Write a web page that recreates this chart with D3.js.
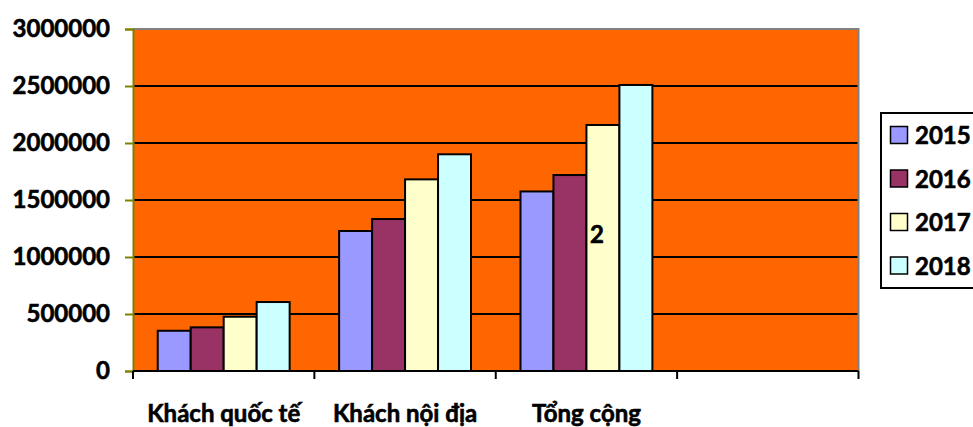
<!DOCTYPE html>
<html>
<head>
<meta charset="utf-8">
<script src="https://cdn.jsdelivr.net/npm/d3@7"></script>
<style>
  html, body { margin: 0; padding: 0; background: #ffffff; overflow: hidden; }
  svg { display: block; font-family: Lato, "Noto Sans", sans-serif; font-weight: bold; }
  svg text { stroke: #000; stroke-width: 0.6px; }
</style>
</head>
<body>
<svg id="chart" width="973" height="427"></svg>
<script>
// Visitor counts per group and year
const categories = ["Khách quốc tế", "Khách nội địa", "Tổng cộng", ""];
const years = ["2015", "2016", "2017", "2018"];
const v2015 = [353000, 1228000, 1575000];
const v2016 = [383000, 1333000, 1719000];
const v2017 = [476000, 1681000, 2158000];
const v2018 = [605000, 1901000, 2509000];
const yTicks = [0, 500000, 1000000, 1500000, 2000000, 2500000, 3000000];
const colors = ["#9999FF", "#993366", "#FFFFCC", "#CCFFFF"];
// stray value label on the 2017 "Tổng cộng" bar
const strayLabel = { text: "2", category: "Tổng cộng", year: "2017", value: 1200000 };

const seriesValues = [v2015, v2016, v2017, v2018];

const svg = d3.select("#chart");
const plot = { left: 133, right: 858.5, top: 29, bottom: 371 };

const x0 = d3.scaleBand().domain(categories).range([plot.left, plot.right]).padding(0);
const x1 = d3.scaleBand().domain(years).range([0, x0.bandwidth()])
  .paddingInner(0).paddingOuter(0.75);
const y = d3.scaleLinear().domain([0, 3000000]).range([plot.bottom, plot.top]);

// plot background
svg.append("rect")
  .attr("x", plot.left).attr("y", plot.top)
  .attr("width", plot.right - plot.left).attr("height", plot.bottom - plot.top)
  .attr("fill", "#FF6600");

// horizontal gridlines
svg.append("g").selectAll("line")
  .data(yTicks.filter(t => t > 0 && t < 3000000))
  .join("line")
  .attr("x1", plot.left).attr("x2", plot.right)
  .attr("y1", d => y(d)).attr("y2", d => y(d))
  .attr("stroke", "#000").attr("stroke-width", 2);

// top and right border of the plot area
svg.append("path")
  .attr("d", `M${plot.left},${plot.top}H${plot.right}V${plot.bottom}`)
  .attr("fill", "none").attr("stroke", "#808080").attr("stroke-width", 2);

// bars
const barData = [];
categories.forEach((c, ci) => {
  years.forEach((yr, si) => {
    const v = seriesValues[si][ci];
    if (v != null) barData.push({ category: c, year: yr, value: v, color: colors[si] });
  });
});

svg.append("g").selectAll("rect")
  .data(barData)
  .join("rect")
  .attr("x", d => x0(d.category) + x1(d.year))
  .attr("y", d => y(d.value))
  .attr("width", x1.bandwidth())
  .attr("height", d => y(0) - y(d.value))
  .attr("fill", d => d.color)
  .attr("stroke", "#000").attr("stroke-width", 2);

// y axis
const yAxis = svg.append("g")
  .attr("transform", `translate(${plot.left},0)`)
  .call(d3.axisLeft(y).tickValues(yTicks).tickFormat(d3.format("d")).tickSize(8).tickPadding(15));
yAxis.select(".domain").attr("stroke", "#808000").attr("stroke-width", 2);
yAxis.selectAll(".tick line").attr("stroke", "#808000").attr("stroke-width", 2);
yAxis.selectAll(".tick text")
  .attr("fill", "#000").attr("font-size", 24).attr("font-weight", "bold")
  .attr("font-family", "Lato, 'Noto Sans', sans-serif");

// x axis line with ticks at category boundaries
const bounds = categories.map(c => x0(c)).concat([x0(categories[categories.length - 1]) + x0.bandwidth()]);
svg.append("line")
  .attr("x1", plot.left).attr("x2", plot.right)
  .attr("y1", plot.bottom).attr("y2", plot.bottom)
  .attr("stroke", "#000").attr("stroke-width", 2);
svg.append("g").selectAll("line")
  .data(bounds)
  .join("line")
  .attr("x1", d => d).attr("x2", d => d)
  .attr("y1", plot.bottom).attr("y2", plot.bottom + 8)
  .attr("stroke", "#000").attr("stroke-width", 2);

// category labels
svg.append("g").selectAll("text")
  .data(categories.filter(c => c !== ""))
  .join("text")
  .attr("x", d => x0(d) + x0.bandwidth() / 2)
  .attr("y", 422)
  .attr("text-anchor", "middle")
  .attr("font-size", 24)
  .text(d => d);

// stray label
svg.append("text")
  .attr("x", x0(strayLabel.category) + x1(strayLabel.year) + x1.bandwidth() / 2 - 6)
  .attr("y", y(strayLabel.value) + 9)
  .attr("text-anchor", "middle")
  .attr("font-size", 24)
  .text(strayLabel.text);

// legend
const legend = svg.append("g").attr("transform", "translate(881,113)");
legend.append("rect")
  .attr("x", 0).attr("y", 0).attr("width", 100).attr("height", 175)
  .attr("fill", "#fff").attr("stroke", "#000").attr("stroke-width", 2);
const item = legend.selectAll("g.item")
  .data(years)
  .join("g")
  .attr("class", "item")
  .attr("transform", (d, i) => `translate(0,${22 + i * 43.5})`);
item.append("rect")
  .attr("x", 9.5).attr("y", -8.5).attr("width", 17).attr("height", 17)
  .attr("fill", (d, i) => colors[i]).attr("stroke", "#000").attr("stroke-width", 1.5);
item.append("text")
  .attr("x", 34).attr("y", 9)
  .attr("font-size", 24)
  .text(d => d);
</script>
</body>
</html>
